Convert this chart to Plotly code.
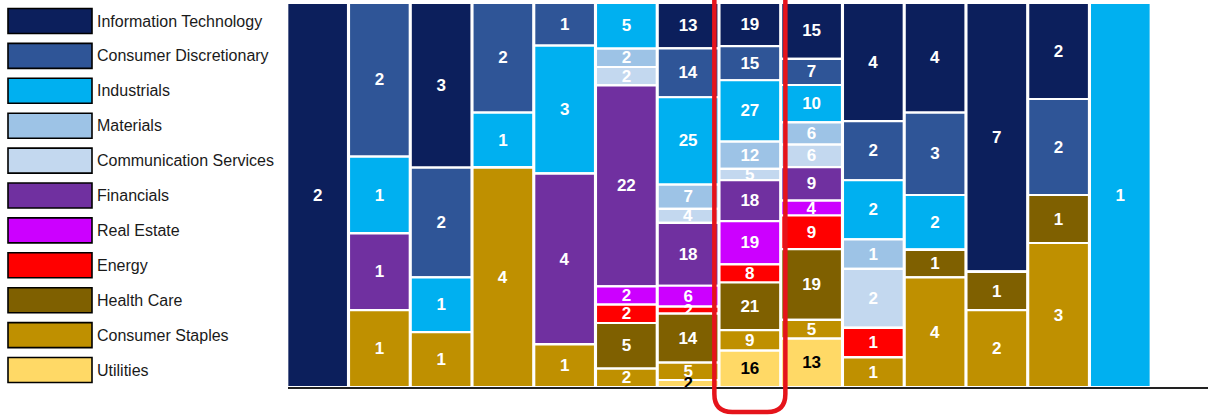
import plotly.graph_objects as go
import numpy as np

# ---- data ----
columns = [str(i) for i in range(1, 15)]
sectors = ["Information Technology", "Consumer Discretionary", "Industrials", "Materials",
           "Communication Services", "Financials", "Real Estate", "Energy",
           "Health Care", "Consumer Staples", "Utilities"]
it_vals = [2, 0, 3, 0, 0, 0, 13, 19, 15, 4, 4, 7, 2, 0]
cd_vals = [0, 2, 2, 2, 1, 0, 14, 15, 7, 2, 3, 0, 2, 0]
ind_vals = [0, 1, 1, 1, 3, 5, 25, 27, 10, 2, 2, 0, 0, 1]
mat_vals = [0, 0, 0, 0, 0, 2, 7, 12, 6, 1, 0, 0, 0, 0]
comm_vals = [0, 0, 0, 0, 0, 2, 4, 5, 6, 2, 0, 0, 0, 0]
fin_vals = [0, 1, 0, 0, 4, 22, 18, 18, 9, 0, 0, 0, 0, 0]
re_vals = [0, 0, 0, 0, 0, 2, 6, 19, 4, 0, 0, 0, 0, 0]
energy_vals = [0, 0, 0, 0, 0, 2, 2, 8, 9, 1, 0, 0, 0, 0]
hc_vals = [0, 0, 0, 0, 0, 5, 14, 21, 19, 0, 1, 1, 1, 0]
cs_vals = [0, 1, 1, 4, 1, 2, 5, 9, 5, 1, 4, 2, 3, 0]
util_vals = [0, 0, 0, 0, 0, 0, 2, 16, 13, 0, 0, 0, 0, 0]
highlight_col = 7  # zero-based index of the highlighted column

values = [it_vals, cd_vals, ind_vals, mat_vals, comm_vals, fin_vals,
          re_vals, energy_vals, hc_vals, cs_vals, util_vals]
colors = ["#0c1f5c", "#2f5597", "#00b0f0", "#9dc3e6", "#c3d8ef", "#7030a0",
          "#cc00ff", "#ff0000", "#7f6000", "#bf9000", "#ffd966"]
text_colors = ["white"] * 10 + ["black"]

W, H = 1208, 416
FONT = "Liberation Sans, Arial, sans-serif"

arr = np.array(values, dtype=float)          # rows: sectors (top -> bottom)
totals = arr.sum(axis=0)
shares = arr / totals
# segment tops measured down from 1 (top of the 100% column)
tops = 1.0 - (np.cumsum(arr, axis=0) - arr) / totals
bases = tops - shares

fig = go.Figure()
xs = list(range(len(columns)))
# draw top segments first so lower segments' labels sit on top (as in the reference)
for i, (name, col, tc) in enumerate(zip(sectors, colors, text_colors)):
    fig.add_trace(go.Bar(
        x=xs, y=shares[i], base=bases[i], name=name,
        marker=dict(color=col, line=dict(color="white", width=2.2)),
        text=[str(int(v)) if v else "" for v in arr[i]],
        textposition="inside", insidetextanchor="middle", textangle=0,
        constraintext="none", cliponaxis=False,
        textfont=dict(family=FONT, size=17, color=tc, weight="bold"),
        showlegend=False, hoverinfo="skip",
    ))

plot_left = 288
y_bottom_px, y_top_px = 387, 3
fig.update_layout(
    width=W, height=H,
    margin=dict(l=0, r=0, t=0, b=0),
    paper_bgcolor="white", plot_bgcolor="white",
    barmode="overlay", bargap=0.015,
    uniformtext=dict(mode="show", minsize=17),
    xaxis=dict(domain=[plot_left / W, 1], range=[-0.48, 14.42],
               showgrid=False, zeroline=False, showticklabels=False, ticks="",
               showline=True, linecolor="#222222", linewidth=1.5, fixedrange=True),
    yaxis=dict(domain=[(H - y_bottom_px) / H, (H - y_top_px) / H], range=[-1e-6, 1 + 1e-6],
               showgrid=False, zeroline=False, showticklabels=False, ticks="",
               showline=False, fixedrange=True),
)

# ---- custom legend (swatches + labels) ----
row0, row_step = 21, 34.9
sw_x0, sw_x1, sw_half = 8, 92, 12.5
for i, (name, col) in enumerate(zip(sectors, colors)):
    cy = row0 + i * row_step
    fig.add_shape(type="rect", xref="paper", yref="paper",
                  x0=sw_x0 / W, x1=sw_x1 / W,
                  y0=(H - cy - sw_half) / H, y1=(H - cy + sw_half) / H,
                  fillcolor=col, line=dict(color="black", width=1.6))
    fig.add_annotation(xref="paper", yref="paper", x=95 / W, y=(H - cy) / H,
                       text=name, showarrow=False, xanchor="left", yanchor="middle",
                       font=dict(family=FONT, size=16, color="#1a1a1a"))

# ---- red highlight around one column ----
hw = 0.575
rx = 18 / 61.74
yb = (H - 412) / H
ry = 18 / H
x0, x1 = highlight_col - hw, highlight_col + hw
path = (f"M {x0},1.05 L {x0},{yb + ry} Q {x0},{yb} {x0 + rx},{yb} "
        f"L {x1 - rx},{yb} Q {x1},{yb} {x1},{yb + ry} L {x1},1.05")
fig.add_shape(type="path", xref="x", yref="paper", path=path,
              line=dict(color="#e5141b", width=4.5), layer="above")

fig.write_html("out.html", config={"displayModeBar": False},
               post_script="document.body.style.margin='0';document.body.style.padding='0';")
